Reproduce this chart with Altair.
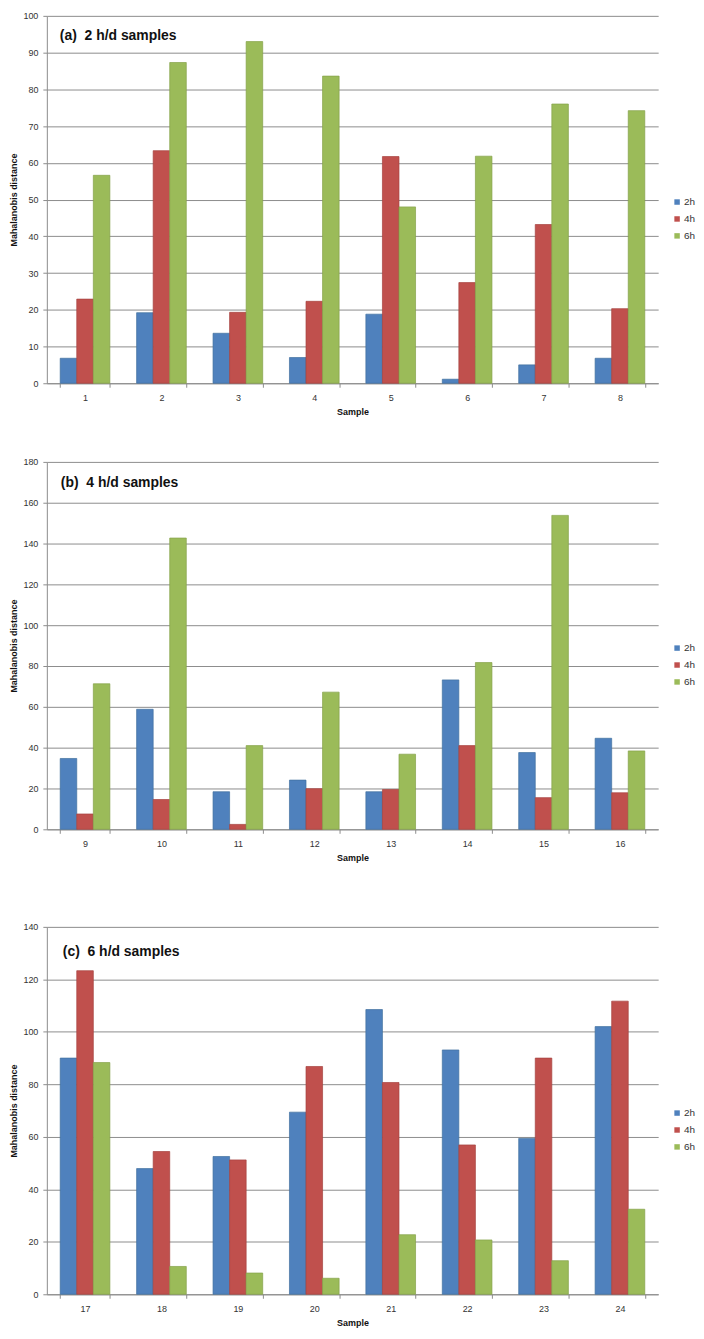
import altair as alt
import pandas as pd

series = ["2h", "4h", "6h"]
colors = ["#4F81BD", "#C0504D", "#9BBB59"]
strokes = ["#41709f", "#a54240", "#84a14a"]

samples_a = [1, 2, 3, 4, 5, 6, 7, 8]
a_2h = [6.8, 19.2, 13.6, 7.0, 18.8, 1.1, 5.0, 6.8]
a_4h = [22.9, 63.3, 19.3, 22.3, 61.7, 27.4, 43.2, 20.3]
a_6h = [56.6, 87.3, 93.0, 83.6, 48.0, 61.8, 76.0, 74.2]

samples_b = [9, 10, 11, 12, 13, 14, 15, 16]
b_2h = [34.7, 58.8, 18.4, 24.1, 18.4, 73.2, 37.6, 44.6]
b_4h = [7.5, 14.6, 2.4, 19.9, 19.5, 41.0, 15.5, 17.9]
b_6h = [71.3, 142.7, 41.0, 67.2, 36.8, 81.7, 153.8, 38.4]

samples_c = [17, 18, 19, 20, 21, 22, 23, 24]
c_2h = [90.0, 47.9, 52.5, 69.4, 108.5, 93.1, 59.4, 102.0]
c_4h = [123.3, 54.4, 51.2, 86.8, 80.7, 56.9, 90.0, 111.7]
c_6h = [88.3, 10.6, 8.1, 6.1, 22.7, 20.7, 12.8, 32.4]

titles = ["(a)\u00a0 2 h/d samples", "(b)\u00a0 4 h/d samples", "(c)\u00a0 6 h/d samples"]
y_max = [100, 180, 140]
y_step = [10, 20, 20]

W, H = 614, 369
GRAY = "#8c8c8c"
FONT = "Liberation Sans"


def panel(samples, s2, s4, s6, ymax, step, label, tx, ty):
    rows = []
    for i, s in enumerate(samples):
        rows.append({"Sample": s, "Series": "2h", "Value": s2[i]})
        rows.append({"Sample": s, "Series": "4h", "Value": s4[i]})
        rows.append({"Sample": s, "Series": "6h", "Value": s6[i]})
    df = pd.DataFrame(rows)
    bars = alt.Chart(df).mark_bar(strokeWidth=0.7).encode(
        x=alt.X("Sample:O", sort=samples,
                scale=alt.Scale(paddingInner=0.35, paddingOuter=0.175),
                axis=alt.Axis(title="Sample", labelAngle=0, tickBand="extent",
                              grid=False, tickSize=4, labelPadding=6,
                              titlePadding=5)),
        xOffset=alt.XOffset("Series:N", sort=series),
        y=alt.Y("Value:Q", scale=alt.Scale(domain=[0, ymax], nice=False),
                axis=alt.Axis(title="Mahalanobis distance",
                              values=list(range(0, ymax + 1, step)),
                              tickSize=4, labelPadding=5, titlePadding=4)),
        color=alt.Color("Series:N", sort=series,
                        scale=alt.Scale(domain=series, range=colors),
                        legend=alt.Legend(title=None, orient="none",
                                          legendX=628, legendY=182,
                                          symbolType="square", symbolSize=30,
                                          symbolStrokeWidth=0, rowPadding=7,
                                          labelFontSize=10, labelOffset=2,
                                          labelFont=FONT, labelColor="#333333",
                                          padding=0)),
        stroke=alt.Stroke("Series:N", sort=series,
                          scale=alt.Scale(domain=series, range=strokes),
                          legend=None),
    )
    tdf = pd.DataFrame({"t": [label]})
    txt = alt.Chart(tdf).mark_text(align="left", baseline="middle", fontSize=14,
                                   fontWeight="bold", font=FONT,
                                   color="#111111").encode(
        text="t:N", x=alt.value(tx), y=alt.value(ty))
    return alt.layer(bars, txt).properties(width=W, height=H)


pa = panel(samples_a, a_2h, a_4h, a_6h, y_max[0], y_step[0], titles[0], 13, 20.5)
pb = panel(samples_b, b_2h, b_4h, b_6h, y_max[1], y_step[1], titles[1], 14, 21)
pc = panel(samples_c, c_2h, c_4h, c_6h, y_max[2], y_step[2], titles[2], 16, 25)

top = alt.vconcat(pa, pb, spacing=42).resolve_scale(color="independent",
                                                    stroke="independent")
chart = alt.vconcat(top, pc, spacing=61).resolve_scale(
    color="independent", stroke="independent"
).properties(padding={"left": 1, "top": 1, "right": 0, "bottom": 0}).configure_view(
    stroke=None
).configure_axis(
    labelFont=FONT, titleFont=FONT, labelFontSize=9, titleFontSize=9,
    titleFontWeight="bold", labelColor="#333333", titleColor="#111111",
    domainColor=GRAY, tickColor=GRAY, gridColor=GRAY, gridOpacity=1,
    gridWidth=1, domainWidth=1
)

chart.save("out.html", embed_options={"renderer": "svg", "actions": False})
